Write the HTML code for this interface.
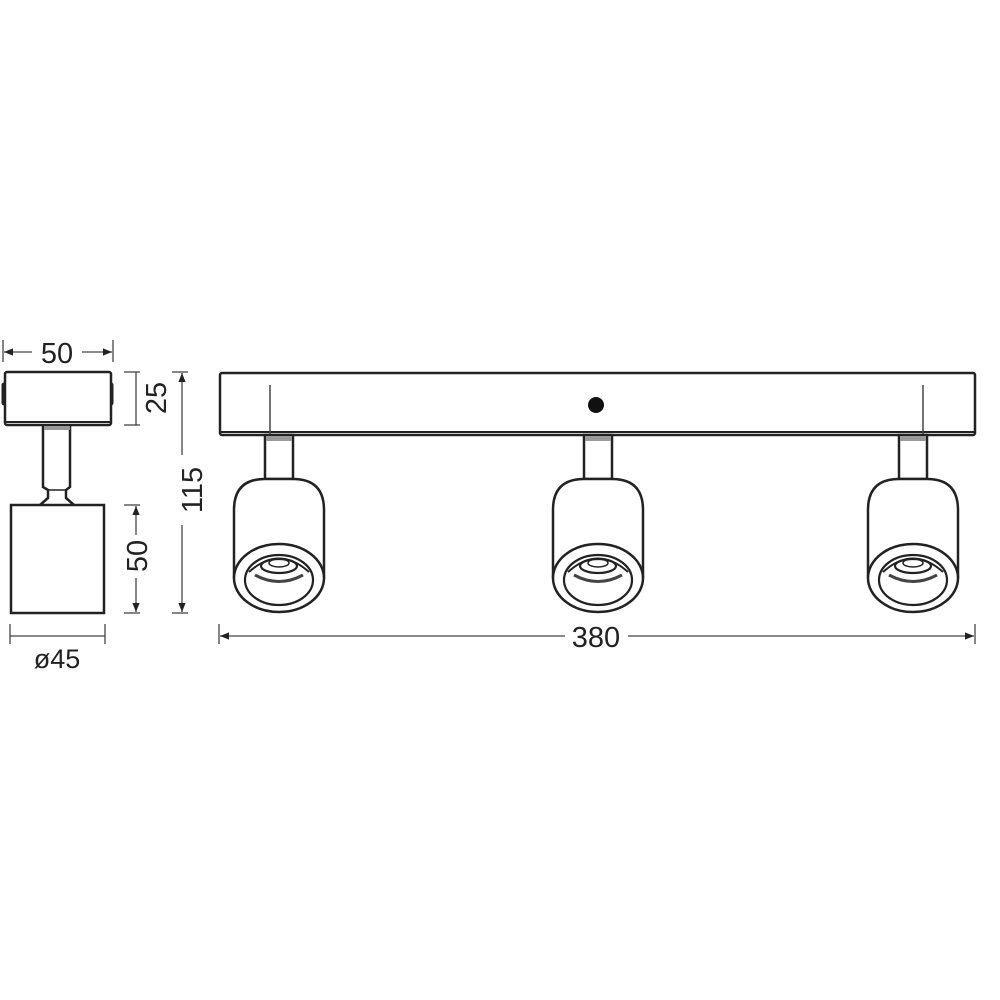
<!DOCTYPE html>
<html><head><meta charset="utf-8"><style>
html,body{margin:0;padding:0;background:#fff;}
svg{display:block;}
text{font-family:"Liberation Sans",sans-serif;fill:#222;}
</style></head><body>
<svg width="1000" height="1000" viewBox="0 0 1000 1000" xmlns="http://www.w3.org/2000/svg">
<defs>
<g id="spot" fill="none" stroke="#222">
  <rect x="-14" y="435" width="28" height="44" fill="#fff" stroke-width="2.5"/>
  <rect x="-13" y="436" width="26" height="5" fill="#999" stroke="none"/>
  <path d="M-45 578 L-45 510 Q-45 479 -14 479 L14 479 Q45 479 45 510 L45 578" fill="#fff" stroke-width="2.5"/>
  <ellipse cx="0" cy="578" rx="45" ry="34" fill="#fff" stroke-width="2.5"/>
  <ellipse cx="0" cy="580" rx="34" ry="25" stroke-width="2.2"/>
  <path d="M-30 572 Q0 545 30 572" stroke-width="2"/>
  <ellipse cx="0" cy="566" rx="18" ry="7" stroke-width="2.2"/>
  <ellipse cx="0" cy="563" rx="10" ry="4" stroke-width="1.5"/>
  <path d="M-24 575 Q0 588 24 575" stroke-width="3" stroke="#444"/>
</g>
<marker id="ar" viewBox="0 0 10 10" refX="10" refY="5" markerWidth="16" markerHeight="9" markerUnits="userSpaceOnUse" orient="auto-start-reverse"><path d="M0 1 L10 5 L0 9z" fill="#222"/></marker>
</defs>

<!-- left side view -->
<g fill="none" stroke="#222">
  <rect x="2" y="383" width="5" height="22" rx="2" fill="#222"/>
  <rect x="108" y="383" width="5" height="22" rx="2" fill="#222"/>
  <rect x="5" y="372" width="106" height="53" rx="2" fill="#fff" stroke-width="2.5"/>
  <line x1="6" y1="422" x2="110" y2="422" stroke-width="2"/>
  <path d="M43 425 L43 487 L48 490 L48 498 L40 505 M70 425 L70 487 L66 490 L66 498 L74 505" stroke-width="2.5"/>
  <line x1="48" y1="490" x2="66" y2="490" stroke-width="1.5"/>
  <rect x="44" y="426" width="26" height="4" fill="#999" stroke="none"/>
  <rect x="11" y="505" width="93" height="108" fill="#fff" stroke-width="2.5"/>
</g>
<!-- dims -->
<g stroke="#444" stroke-width="1.3" fill="none">
  <line x1="3" y1="340" x2="3" y2="362"/><line x1="113" y1="340" x2="113" y2="362"/>
  <line x1="4" y1="352" x2="32" y2="352" marker-start="url(#ar)"/>
  <line x1="82" y1="352" x2="112" y2="352" marker-end="url(#ar)"/>
  <line x1="124" y1="372" x2="140" y2="372"/><line x1="124" y1="425" x2="140" y2="425"/>
  <line x1="136" y1="372" x2="136" y2="425"/>
  <line x1="172" y1="372" x2="188" y2="372"/><line x1="172" y1="613" x2="188" y2="613"/>
  <line x1="182" y1="373" x2="182" y2="455" marker-start="url(#ar)"/>
  <line x1="182" y1="525" x2="182" y2="612" marker-end="url(#ar)"/>
  <line x1="124" y1="505" x2="140" y2="505"/><line x1="124" y1="613" x2="140" y2="613"/>
  <line x1="136" y1="506" x2="136" y2="535" marker-start="url(#ar)"/>
  <line x1="136" y1="578" x2="136" y2="612" marker-end="url(#ar)"/>
  <line x1="10" y1="624" x2="10" y2="644"/><line x1="105" y1="624" x2="105" y2="644"/>
  <line x1="10" y1="636" x2="105" y2="636"/>
  <line x1="219" y1="624" x2="219" y2="644"/><line x1="975" y1="624" x2="975" y2="644"/>
  <line x1="220" y1="636" x2="565" y2="636" marker-start="url(#ar)"/>
  <line x1="628" y1="636" x2="974" y2="636" marker-end="url(#ar)"/>
</g>
<text x="57" y="363" font-size="29" text-anchor="middle">50</text>
<text transform="translate(166,398) rotate(-90)" font-size="29" text-anchor="middle">25</text>
<text transform="translate(202,490) rotate(-90)" font-size="29" text-anchor="middle">115</text>
<text transform="translate(147,556) rotate(-90)" font-size="29" text-anchor="middle">50</text>
<text x="57" y="668" font-size="27" text-anchor="middle">ø45</text>
<text x="596" y="647" font-size="29" text-anchor="middle">380</text>

<!-- main plate -->
<rect x="220" y="373" width="755" height="62" rx="2" fill="#fff" stroke="#222" stroke-width="2.5"/>
<line x1="221" y1="432" x2="974" y2="432" stroke="#222" stroke-width="2"/>
<circle cx="596" cy="405" r="8" fill="#111"/>
<line x1="270" y1="385" x2="270" y2="435" stroke="#444" stroke-width="1.5"/>
<line x1="923" y1="385" x2="923" y2="435" stroke="#444" stroke-width="1.5"/>
<use href="#spot" transform="translate(279,0)"/>
<use href="#spot" transform="translate(598,0)"/>
<use href="#spot" transform="translate(913,0)"/>
</svg>
</body></html>
